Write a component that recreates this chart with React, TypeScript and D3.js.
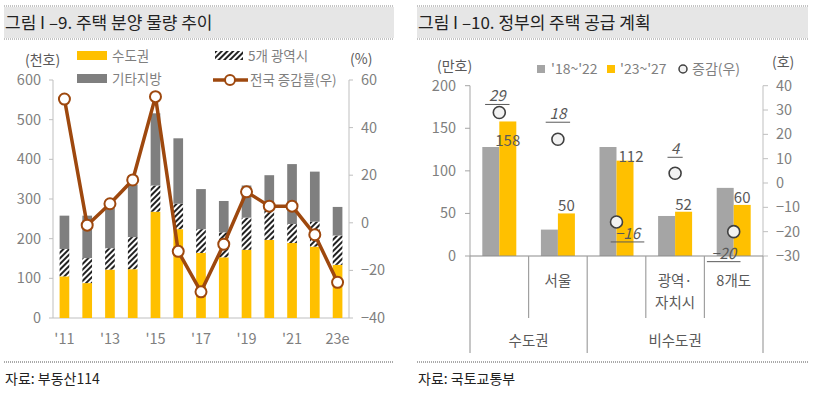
import React from "react";
import * as d3 from "d3";

// 그림 I-9 : 주택 분양 물량 (천호), 전국 증감률 (%)
const years = ["'11", "'12", "'13", "'14", "'15", "'16", "'17", "'18", "'19", "'20", "'21", "'22", "23e"];
const capital = [105, 88, 122, 123, 268, 224, 164, 153, 172, 197, 189, 180, 134];
const metro5 = [69, 63, 54, 81, 66, 64, 60, 63, 81, 73, 48, 63, 74];
const others = [84, 107, 101, 132, 182, 165, 101, 79, 81, 90, 151, 126, 72];
const growth = [52, -1, 8, 18, 53, -12, -29, -9, 13, 7, 7, -5, -25];

// 그림 I-10 : 정부의 주택 공급 계획 (만호), 증감 (호)
const regions = ["", "서울", "", "광역·|자치시", "8개도"];
const supplyPrev = [128, 31, 128, 47, 80];
const supplyPlan = [158, 50, 112, 52, 60];
const supplyChange = [29, 18, -16, 4, -20];
const regionGroups = [
  { name: "수도권", from: 0, to: 2 },
  { name: "비수도권", from: 2, to: 5 },
];
// manual label nudges (like the excel original)
const planLabelShift = [[0, 27], [0, 0], [6, 3], [0, 0], [0, 0]];
const changeLabelShift = [[-2, -16], [0, -25], [11, 12], [0, -24], [-10, 22]];

const FONT = "'Noto Sans CJK KR', 'Noto Sans', sans-serif";
const YELLOW = "#FFC000";
const DARKGRAY = "#7F7F7F";
const LIGHTGRAY = "#A5A5A5";
const BROWN = "#9E480E";
const TICK = "#7F7F7F";
const TXT = "#595959";
const AXIS = "#BFBFBF";

const TitleBar = ({ x, w, text }) => (
  <g>
    <rect x={x} y={7} width={w} height={31} fill="#E6E6E6" />
    <line x1={x} x2={x + w} y1={6} y2={6} stroke="#888" strokeDasharray="1,1" />
    <line x1={x} x2={x + w} y1={39} y2={39} stroke="#888" strokeDasharray="1,1" />
    <text x={x + 1} y={29} fontSize={17} fill="#222">{text}</text>
  </g>
);

const Source = ({ x, w, text }) => (
  <g>
    <line x1={x} x2={x + w} y1={362} y2={362} stroke="#555" strokeDasharray="1,1" />
    <text x={x + 1} y={384} fontSize={14} fill="#222">{text}</text>
  </g>
);

const LeftChart = () => {
  const x = d3.scaleBand().domain(years).range([53, 349]).paddingInner(0.575).paddingOuter(0.29);
  const yL = d3.scaleLinear().domain([0, 600]).range([318, 80]);
  const yR = d3.scaleLinear().domain([-40, 60]).range([318, 80]);
  const cx = (i) => x(years[i]) + x.bandwidth() / 2;
  const stacks = years.map((_, i) => {
    const a = capital[i], b = a + metro5[i], c = b + others[i];
    return [
      { y0: 0, y1: a, fill: YELLOW },
      { y0: a, y1: b, fill: "url(#hatch)" },
      { y0: b, y1: c, fill: DARKGRAY },
    ];
  });
  const line = d3.line().x((d, i) => cx(i)).y((d) => yR(d));
  return (
    <g>
      <TitleBar x={4} w={390} text="그림 I –9. 주택 분양 물량 추이" />
      {/* legend */}
      <text x={25} y={65} fontSize={14} fill={TXT}>(천호)</text>
      <text x={350} y={64} fontSize={14} fill={TXT}>(%)</text>
      <rect x={77} y={51} width={30} height={9} fill={YELLOW} />
      <text x={112} y={61} fontSize={13.5} fill={TICK}>수도권</text>
      <rect x={215} y={51} width={28} height={9} fill="url(#hatch)" />
      <text x={248} y={61} fontSize={13.5} fill={TICK}>5개 광역시</text>
      <rect x={77} y={74} width={30} height={9} fill={DARKGRAY} />
      <text x={112} y={84} fontSize={13.5} fill={TICK}>기타지방</text>
      <line x1={213} x2={248} y1={80} y2={80} stroke={BROWN} strokeWidth={3.5} />
      <circle cx={230} cy={80} r={5} fill="#fff" stroke={BROWN} strokeWidth={2} />
      <text x={250} y={85} fontSize={13.5} fill={TICK}>전국 증감률(우)</text>
      {/* axes */}
      <line x1={53} x2={53} y1={80} y2={318} stroke={AXIS} />
      <line x1={349} x2={349} y1={80} y2={318} stroke={AXIS} />
      <line x1={53} x2={349} y1={318} y2={318} stroke={AXIS} />
      {yL.ticks(6).map((t) => (
        <g key={"l" + t}>
          <line x1={49} x2={53} y1={yL(t)} y2={yL(t)} stroke={AXIS} />
          <text x={41} y={yL(t) + 5} fontSize={14.5} fill={TICK} textAnchor="end">{t}</text>
        </g>
      ))}
      {yR.ticks(5).map((t) => (
        <g key={"r" + t}>
          <line x1={349} x2={353} y1={yR(t)} y2={yR(t)} stroke={AXIS} />
          <text x={361} y={yR(t) + 5} fontSize={14.5} fill={TICK}>{d3.format("")(t)}</text>
        </g>
      ))}
      {years.map((yr, i) =>
        i % 2 === 0 ? (
          <text key={yr} x={cx(i)} y={344} fontSize={14.5} fill={TICK} textAnchor="middle">{yr}</text>
        ) : null
      )}
      {/* bars */}
      {stacks.map((st, i) =>
        st.map((s, j) => (
          <rect key={i + "-" + j} x={x(years[i])} width={x.bandwidth()} y={yL(s.y1)} height={yL(s.y0) - yL(s.y1)} fill={s.fill} />
        ))
      )}
      {/* line */}
      <path d={line(growth)} fill="none" stroke={BROWN} strokeWidth={3.5} strokeLinejoin="round" />
      {growth.map((g, i) => (
        <circle key={"m" + i} cx={cx(i)} cy={yR(g)} r={5.5} fill="#fff" stroke={BROWN} strokeWidth={2} />
      ))}
      <Source x={4} w={390} text="자료: 부동산114" />
    </g>
  );
};

const RightChart = () => {
  const idx = regions.map((_, i) => i);
  const x = d3.scaleBand().domain(idx).range([470, 763]);
  const yB = d3.scaleLinear().domain([0, 200]).range([256, 85.7]);
  const yC = d3.scaleLinear().domain([-30, 40]).range([256, 85.7]);
  const bw = 17;
  const mid = (i) => x(i) + x.bandwidth() / 2;
  const edge = (k) => (k < regions.length ? x(k) : x.range()[1]);
  const groupEdges = new Set(regionGroups.flatMap((g) => [g.from, g.to]));
  return (
    <g>
      <TitleBar x={417} w={391} text="그림 I –10. 정부의 주택 공급 계획" />
      <text x={437} y={71} fontSize={14} fill={TXT}>(만호)</text>
      <text x={772} y={67} fontSize={14} fill={TXT}>(호)</text>
      {/* legend */}
      <rect x={537} y={65} width={8} height={8} fill={LIGHTGRAY} />
      <text x={551} y={74} fontSize={14} fill={TICK}>'18~'22</text>
      <rect x={607} y={65} width={8} height={8} fill={YELLOW} />
      <text x={620} y={74} fontSize={14} fill={TICK}>'23~'27</text>
      <circle cx={683} cy={69} r={4} fill="#F2F2F2" stroke="#404040" strokeWidth={1.5} />
      <text x={692} y={74} fontSize={14} fill={TICK}>증감(우)</text>
      {/* axes */}
      <line x1={470} x2={470} y1={85.7} y2={256} stroke={LIGHTGRAY} />
      <line x1={763} x2={763} y1={85.7} y2={256} stroke={AXIS} />
      {yB.ticks(4).map((t) => (
        <g key={"b" + t}>
          <line x1={465} x2={470} y1={yB(t)} y2={yB(t)} stroke={LIGHTGRAY} />
          <text x={456} y={yB(t) + 5} fontSize={14.5} fill={TICK} textAnchor="end">{t}</text>
        </g>
      ))}
      {yC.ticks(7).map((t) => (
        <g key={"c" + t}>
          <line x1={763} x2={768} y1={yC(t)} y2={yC(t)} stroke={AXIS} />
          <text x={776} y={yC(t) + 5} fontSize={14.5} fill={TICK}>{d3.format("")(t)}</text>
        </g>
      ))}
      {/* bars */}
      {idx.map((i) => (
        <g key={"bar" + i}>
          <rect x={mid(i) - bw} width={bw} y={yB(supplyPrev[i])} height={yB(0) - yB(supplyPrev[i])} fill={LIGHTGRAY} />
          <rect x={mid(i)} width={bw} y={yB(supplyPlan[i])} height={yB(0) - yB(supplyPlan[i])} fill={YELLOW} />
        </g>
      ))}
      <line x1={470} x2={763} y1={256} y2={256} stroke="#8C8C8C" strokeWidth={1.2} />
      {/* category axis */}
      {d3.range(regions.length + 1).map((k) => (
        <line key={"sep" + k} x1={edge(k)} x2={edge(k)} y1={256} y2={groupEdges.has(k) ? 353 : 318} stroke="#A0A0A0" strokeWidth={1.2} />
      ))}
      {regions.map((r, i) =>
        r.split("|").map((ln, j) => (
          <text key={"cat" + i + j} x={mid(i)} y={286 + j * 22} fontSize={14.5} fill={TXT} textAnchor="middle">{ln}</text>
        ))
      )}
      {regionGroups.map((g) => (
        <text key={g.name} x={(edge(g.from) + edge(g.to)) / 2} y={346} fontSize={14.5} fill={TXT} textAnchor="middle">{g.name}</text>
      ))}
      {/* value labels */}
      {supplyPlan.map((v, i) => (
        <text key={"v" + i} x={mid(i) + bw / 2 + planLabelShift[i][0]} y={yB(v) - 2 + planLabelShift[i][1]} fontSize={15} fill={TXT} textAnchor="middle">{v}</text>
      ))}
      {/* change markers */}
      {supplyChange.map((v, i) => {
        const lx = mid(i) + changeLabelShift[i][0];
        const ly = yC(v) + changeLabelShift[i][1];
        const lbl = d3.format("")(v);
        const half = lbl.length * 4.6 + 3;
        return (
          <g key={"c" + i}>
            <circle cx={mid(i)} cy={yC(v)} r={6} fill="#F2F2F2" stroke="#404040" strokeWidth={1.6} />
            <text x={lx} y={ly + 5} fontSize={15} fontStyle="italic" fill={TXT} textAnchor="middle">{lbl}</text>
            <line x1={lx - half} x2={lx + half} y1={ly + 8} y2={ly + 8} stroke={TXT} strokeWidth={1} />
          </g>
        );
      })}
      <Source x={417} w={391} text="자료: 국토교통부" />
    </g>
  );
};

export default function App() {
  return (
    <svg width={818} height={395} style={{ position: "absolute", left: 0, top: 0, fontFamily: FONT, background: "#fff" }}>
      <defs>
        <pattern id="hatch" patternUnits="userSpaceOnUse" width={4} height={4} patternTransform="rotate(45)">
          <rect width={4} height={4} fill="#fff" />
          <line x1={1} y1={0} x2={1} y2={4} stroke="#222" strokeWidth={2} />
        </pattern>
      </defs>
      <LeftChart />
      <RightChart />
    </svg>
  );
}
